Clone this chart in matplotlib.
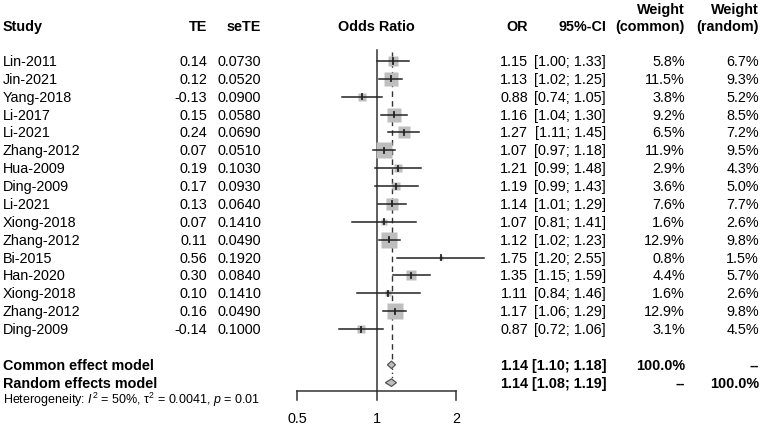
import numpy as np
import matplotlib.pyplot as plt
from matplotlib.patches import Polygon
from matplotlib import transforms

plt.rcParams['font.family'] = ['Liberation Sans', 'DejaVu Sans']
plt.rcParams['mathtext.fontset'] = 'custom'
plt.rcParams['mathtext.rm'] = 'Liberation Sans'
plt.rcParams['mathtext.it'] = 'Liberation Sans:italic'

studies = ['Lin-2011', 'Jin-2021', 'Yang-2018', 'Li-2017', 'Li-2021', 'Zhang-2012',
           'Hua-2009', 'Ding-2009', 'Li-2021', 'Xiong-2018', 'Zhang-2012', 'Bi-2015',
           'Han-2020', 'Xiong-2018', 'Zhang-2012', 'Ding-2009']
te = [0.14, 0.12, -0.13, 0.15, 0.24, 0.07, 0.19, 0.17, 0.13, 0.07, 0.11, 0.56,
      0.30, 0.10, 0.16, -0.14]
se_te = [0.0730, 0.0520, 0.0900, 0.0580, 0.0690, 0.0510, 0.1030, 0.0930, 0.0640,
         0.1410, 0.0490, 0.1920, 0.0840, 0.1410, 0.0490, 0.1000]
odds = [1.15, 1.13, 0.88, 1.16, 1.27, 1.07, 1.21, 1.19, 1.14, 1.07, 1.12, 1.75,
        1.35, 1.11, 1.17, 0.87]
ci_lo = [1.00, 1.02, 0.74, 1.04, 1.11, 0.97, 0.99, 0.99, 1.01, 0.81, 1.02, 1.20,
         1.15, 0.84, 1.06, 0.72]
ci_hi = [1.33, 1.25, 1.05, 1.30, 1.45, 1.18, 1.48, 1.43, 1.29, 1.41, 1.23, 2.55,
         1.59, 1.46, 1.29, 1.06]
w_common = [5.8, 11.5, 3.8, 9.2, 6.5, 11.9, 2.9, 3.6, 7.6, 1.6, 12.9, 0.8,
            4.4, 1.6, 12.9, 3.1]
w_random = [6.7, 9.3, 5.2, 8.5, 7.2, 9.5, 4.3, 5.0, 7.7, 2.6, 9.8, 1.5,
            5.7, 2.6, 9.8, 4.5]

models = ['Common effect model', 'Random effects model']
model_or = [1.14, 1.14]
model_lo = [1.10, 1.08]
model_hi = [1.18, 1.19]
model_wc = ['100.0%', '--']
model_wr = ['--', '100.0%']
het_text = 'Heterogeneity: $I^2$ = 50%, τ$^2$ = 0.0041, $p$ = 0.01'
xticks = [0.5, 1, 2]

W, H = 761, 427
fig = plt.figure(figsize=(W / 100, H / 100), dpi=100)

# forest panel: 0.5 .. 2 between x=297 and x=456 px, one row = 17.87 px
row_h = 17.87
y0 = 62
ax = fig.add_axes([297 / W, 0, (456 - 297) / W, 1])
ax.set_xscale('log')
ax.set_xlim(0.5, 2)
ax.set_ylim((H - y0) / row_h, -y0 / row_h)
ax.axis('off')

tr = transforms.blended_transform_factory(fig.transFigure, ax.transData)
fs = 10.4


def txt(xpx, r, s, ha='right', bold=False, size=fs):
    ax.text(xpx / W, r, s, transform=tr, ha=ha, va='center', fontsize=size,
            fontweight='bold' if bold else 'normal', clip_on=False)


# headers
hr = -1.95
txt(3, hr, 'Study', ha='left', bold=True)
txt(207, hr, 'TE', bold=True)
txt(261, hr, 'seTE', bold=True)
txt(376, hr, 'Odds Ratio', ha='center', bold=True)
txt(528, hr, 'OR', bold=True)
txt(606, hr, '95%-CI', bold=True)
txt(685, hr - 0.95, 'Weight', bold=True)
txt(685, hr, '(common)', bold=True)
txt(759, hr - 0.95, 'Weight', bold=True)
txt(759, hr, '(random)', bold=True)

rows = np.arange(len(studies))
n = len(studies)
r_com, r_ran = n + 1, n + 2

# reference lines
ax.plot([1, 1], [-0.62, 18.47], color='#333333', lw=1.1, clip_on=False)
ax.plot([model_or[0]] * 2, [-0.5, r_com - 0.2], color='#333333', lw=1.0,
        ls=(0, (4, 3)), clip_on=False)
ax.plot([model_or[1]] * 2, [r_com + 0.2, r_ran - 0.2], color='#333333', lw=1.0,
        ls=(0, (1, 2)), clip_on=False)

for i in rows:
    sz = 4.4 * np.sqrt(w_common[i]) * 0.72
    ax.plot(odds[i], i, marker='s', ms=sz, color='#BEBEBE', mec='none', clip_on=False)
    ax.plot([ci_lo[i], ci_hi[i]], [i, i], color='#222222', lw=1.1, clip_on=False)
    ax.plot([odds[i]] * 2, [i - 0.14, i + 0.14], color='#222222', lw=1.3, clip_on=False)

    txt(3, i, studies[i], ha='left')
    txt(207, i, f'{te[i]:.2f}')
    txt(261, i, f'{se_te[i]:.4f}')
    txt(528, i, f'{odds[i]:.2f}')
    txt(606, i, f'[{ci_lo[i]:.2f}; {ci_hi[i]:.2f}]')
    txt(685, i, f'{w_common[i]:.1f}%')
    txt(759, i, f'{w_random[i]:.1f}%')

for k, r in enumerate([r_com, r_ran]):
    h = 0.21
    ax.add_patch(Polygon([(model_lo[k], r), (model_or[k], r - h), (model_hi[k], r),
                          (model_or[k], r + h)], closed=True, fc='#BEBEBE',
                         ec='#555555', lw=0.9, clip_on=False))
    txt(3, r, models[k], ha='left', bold=True)
    txt(528, r, f'{model_or[k]:.2f}', bold=True)
    txt(606, r, f'[{model_lo[k]:.2f}; {model_hi[k]:.2f}]', bold=True)
    txt(685, r, model_wc[k], bold=True)
    txt(759, r, model_wr[k], bold=True)

txt(3, (400 - y0) / row_h, het_text, ha='left', size=9.0)

# x axis
ya = (392 - y0) / row_h
yt = (401 - y0) / row_h
ax.plot([xticks[0], xticks[-1]], [ya, ya], color='#333333', lw=1.1, clip_on=False)
for t in xticks:
    ax.plot([t, t], [ya, yt], color='#333333', lw=1.1, clip_on=False)
    ax.text(t, (419 - y0) / row_h, f'{t:g}', ha='center', va='center', fontsize=fs,
            clip_on=False)

fig.savefig('out.png', dpi=100)
